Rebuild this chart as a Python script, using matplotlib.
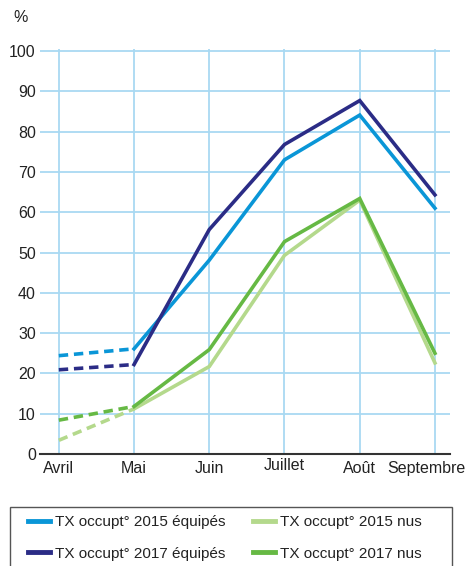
import matplotlib
matplotlib.use("Agg")
import matplotlib.pyplot as plt
from matplotlib.lines import Line2D
from matplotlib.patches import Rectangle
from matplotlib.transforms import ScaledTranslation

plt.rcParams['font.family'] = ['Liberation Sans', 'DejaVu Sans']

months = ["Avril", "Mai", "Juin", "Juillet", "Août", "Septembre"]
equip_2015 = [24.4, 26.1, 48.1, 73.0, 84.1, 61.0]
equip_2017 = [20.9, 22.2, 55.7, 76.8, 87.7, 64.3]
nus_2015 = [3.4, 11.2, 21.7, 49.3, 63.0, 22.6]
nus_2017 = [8.4, 11.8, 25.9, 52.7, 63.4, 25.0]
labels = ["TX occupt° 2015 équipés", "TX occupt° 2017 équipés",
          "TX occupt° 2015 nus", "TX occupt° 2017 nus"]
series = [equip_2015, equip_2017, nus_2015, nus_2017]
colors = ["#0a96d7", "#2b2c86", "#b4d98c", "#66b944"]
yticks = list(range(0, 101, 10))

W, H = 465, 566
fig = plt.figure(figsize=(W / 100, H / 100), dpi=100)
ax = fig.add_axes([40 / W, 1 - 454 / H, 410 / W, 405 / H])

x = list(range(len(months)))
lw = 2.6
for idx in [2, 3, 0, 1]:
    vals, c = series[idx], colors[idx]
    ax.plot(x[:2], vals[:2], color=c, lw=lw, linestyle=(0, (2.6, 1.6)),
            solid_capstyle='butt', dash_capstyle='butt', zorder=3)
    ax.plot(x[1:], vals[1:], color=c, lw=lw, solid_joinstyle='miter', zorder=3)

ax.set_xlim(-0.25, 5.2)
ax.set_ylim(0, 100.5)
ax.set_yticks(yticks)
ax.set_xticks(x)
ax.set_xticklabels(months)
ax.grid(True, color="#a9d9f2", lw=1.3, zorder=0)
for s in ["top", "right", "left"]:
    ax.spines[s].set_visible(False)
ax.spines["bottom"].set_color("#333333")
ax.spines["bottom"].set_linewidth(1.5)
ax.spines["bottom"].set_zorder(4)
ax.tick_params(axis='both', length=0, labelsize=11.5, colors="#222222")
ax.tick_params(axis='y', pad=3)
ax.tick_params(axis='x', pad=5)
for lab in ax.get_xticklabels():
    if lab.get_text() == "Juillet":
        lab.set_transform(lab.get_transform() + ScaledTranslation(0, 3 / 100, fig.dpi_scale_trans))
    if lab.get_text() == "Septembre":
        lab.set_transform(lab.get_transform() + ScaledTranslation(-9 / 100, 0, fig.dpi_scale_trans))

fig.text(13 / W, 1 - 18 / H, "%", fontsize=11.5, color="#222222", va='center', ha='left')

fig.patches.append(Rectangle((10 / W, -0.05), 442 / W, 0.05 + 1 - 507 / H,
                             transform=fig.transFigure, fill=False,
                             edgecolor="#555555", lw=1.0))
handles = [Line2D([], [], color=c, lw=3.5) for c in colors]
fig.legend(handles, labels, ncol=2, frameon=False, loc='upper left',
           bbox_to_anchor=(22 / W, 1 - 509 / H), fontsize=11,
           handlelength=1.45, handletextpad=0.3, columnspacing=1.8,
           labelspacing=1.15, borderaxespad=0, labelcolor="#222222")

fig.savefig("out.png", dpi=100)
